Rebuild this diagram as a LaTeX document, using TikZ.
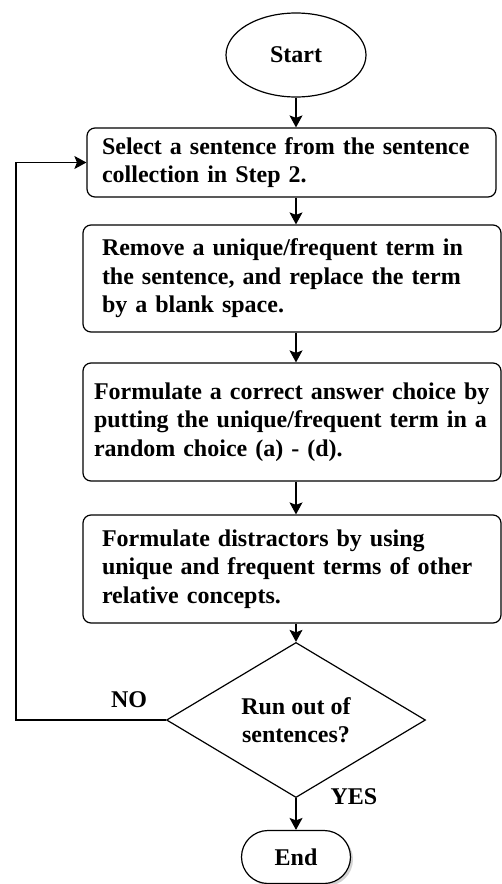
\documentclass[tikz,border=0pt]{standalone}
\usepackage{fontspec}
\setmainfont{Liberation Serif}
\usetikzlibrary{shapes.geometric,arrows.meta,shadows}
\begin{document}
\begin{tikzpicture}[x=1pt,y=-1pt,
  font=\fontsize{24}{28.5}\selectfont\bfseries,
  line width=1.2pt,
  stepbox/.style={draw, rounded corners=8pt, inner ysep=0pt, align=left, anchor=center},
  arr/.style={-{Stealth[length=12pt,width=13pt,inset=2.5pt]}},
  lbl/.style={inner sep=0pt}
]
\useasboundingbox (0,0) rectangle (502,884);

\node[draw, ellipse, minimum width=140pt, minimum height=84pt, inner sep=0pt] (start) at (296,55) {Start};

\node[stepbox, text width=379pt, inner xsep=15pt, minimum height=69pt] (b1) at (291.5,162.5)
  {Select a sentence from the sentence\\collection in Step 2.};
\node[stepbox, text width=380pt, inner xsep=19pt, minimum height=107pt] (b2) at (292,278.5)
  {Remove a unique/frequent term in\\the sentence, and replace the term\\by a blank space.};
\node[stepbox, text width=396pt, inner xsep=11pt, minimum height=118pt] (b3) at (292,422)
  {\mbox{Formulate a correct answer choice by}\\putting the unique/frequent term in a\\random choice (a) - (d).};
\node[stepbox, text width=380pt, inner xsep=19pt, minimum height=108pt] (b4) at (292,569)
  {Formulate distractors by using\\unique and frequent terms of other\\relative concepts.};

\node[draw, diamond, minimum width=259pt, minimum height=124pt, inner sep=0pt, align=center] (dec) at (296,720)
  {Run out of\\sentences?};

\node[draw, rounded corners=26.5pt, minimum width=109pt, minimum height=53pt, inner sep=0pt,
  drop shadow={shadow xshift=2.5pt, shadow yshift=-2.5pt, opacity=0.35}, fill=white] (end) at (296,857) {End};

\node[lbl] (no) at (129,700) {NO};
\node[lbl] (yes) at (354,797) {YES};

\draw[arr] (start.south) -- (start.south |- b1.north);
\draw[arr] (b1.south -| start) -- (b2.north -| start);
\draw[arr] (b2.south -| start) -- (b3.north -| start);
\draw[arr] (b3.south -| start) -- (b4.north -| start);
\draw[arr] (b4.south -| start) -- (dec.north);
\draw[arr] (dec.south) -- (end.north);
\draw[arr] (dec.west) -- ++(-150,0) |- (b1.west);
\end{tikzpicture}
\end{document}
